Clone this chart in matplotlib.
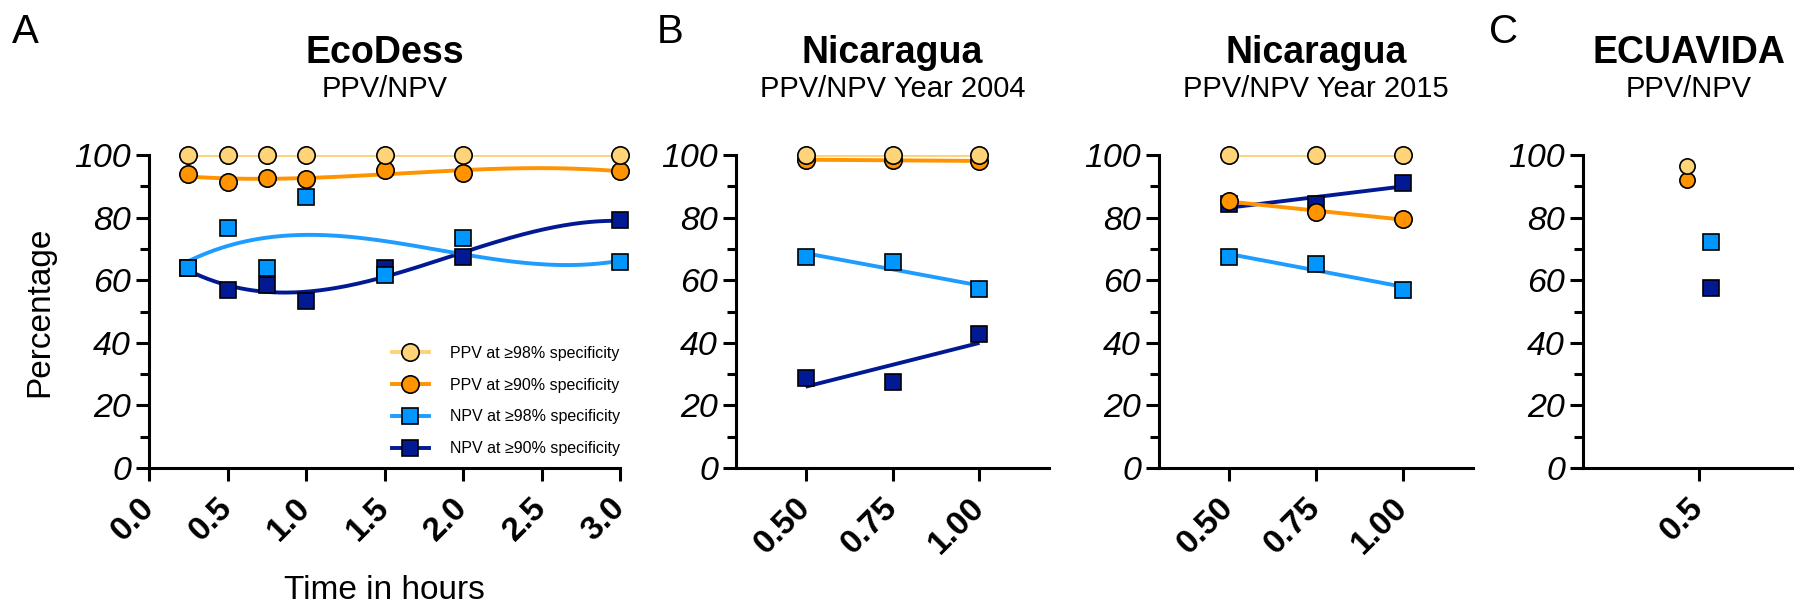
import numpy as np
import matplotlib
matplotlib.use("Agg")
import matplotlib.pyplot as plt
from matplotlib.ticker import MultipleLocator

plt.rcParams["font.family"] = ["Liberation Sans", "DejaVu Sans"]

# ---- data ----
eco_hours = [0.25, 0.5, 0.75, 1.0, 1.5, 2.0, 3.0]
eco_ppv98 = [100, 100, 100, 100, 100, 100, 100]
eco_ppv90 = [93.8, 91.4, 92.7, 92.2, 95.2, 94.3, 94.9]
eco_npv98 = [63.8, 76.8, 63.8, 86.7, 61.8, 73.5, 65.7]
eco_npv90 = [63.8, 56.8, 58.5, 53.5, 63.8, 67.5, 79.1]

nic_hours = [0.5, 0.75, 1.0]
nic04_ppv98 = [100, 100, 100]
nic04_ppv90 = [98.5, 98.3, 98.1]
nic04_npv98 = [67.5, 65.7, 57.2]
nic04_npv90 = [28.7, 27.5, 42.7]
nic15_ppv98 = [100, 100, 100]
nic15_ppv90 = [85.4, 81.7, 79.6]
nic15_npv98 = [67.3, 65.3, 56.8]
nic15_npv90 = [84.3, 84.3, 91.1]

ecu_hours = 0.5
ecu_ppv98 = 96.4
ecu_ppv90 = 92.1
ecu_npv98 = 72.2
ecu_npv90 = 57.6

LABELS = ["PPV at \u226598% specificity", "PPV at \u226590% specificity",
          "NPV at \u226598% specificity", "NPV at \u226590% specificity"]
# marker, face colour, line colour, zorder
STYLE = [("o", "#FFD479", "#FFD27A", 5),
         ("o", "#FF9300", "#FF9300", 4),
         ("s", "#0096FF", "#1E9CFF", 3),
         ("s", "#011993", "#011993", 2)]
MS = {"o": 12.5, "s": 11.5}

W, H = 1794, 610
fig = plt.figure(figsize=(W / 100, H / 100), dpi=100)


def px_axes(left, right, top=155, bottom=468):
    return fig.add_axes([left / W, 1 - bottom / H, (right - left) / W, (bottom - top) / H])


def style_axes(ax, xticks, xfmt):
    ax.set_ylim(0, 100)
    ax.yaxis.set_major_locator(MultipleLocator(20))
    ax.yaxis.set_minor_locator(MultipleLocator(10))
    for s in ("top", "right"):
        ax.spines[s].set_visible(False)
    for s in ("left", "bottom"):
        ax.spines[s].set_linewidth(2.2)
    ax.tick_params(which="major", length=9.5, width=2.2, pad=3.5)
    ax.tick_params(axis="y", which="minor", length=6.5, width=2.2)
    ax.set_xticks(xticks)
    ax.set_xticklabels([xfmt % t for t in xticks], rotation=45, ha="right",
                       rotation_mode="anchor", va="center", fontsize=24, fontweight="bold")
    ax.tick_params(axis="x", pad=16)
    for t in ax.get_yticklabels():
        t.set_fontstyle("italic")
        t.set_fontsize(24.5)


def titles(ax, big, small):
    pos = ax.get_position()
    cx = pos.x0 + pos.width / 2
    fig.text(cx, 1 - 63 / H, big, ha="center", va="baseline", fontsize=27, fontweight="bold")
    fig.text(cx, 1 - 97 / H, small, ha="center", va="baseline", fontsize=21)


def draw(ax, x, series, deg, x0, x1):
    xs = np.linspace(x0, x1, 200)
    for lab, y, (m, fc, lc, z) in zip(LABELS, series, STYLE):
        coef = np.polyfit(x, y, deg)
        ax.plot(xs, np.polyval(coef, xs), color=lc, lw=2.8, zorder=z - 0.5,
                solid_capstyle="butt")
        ax.plot(x, y, m, ms=MS[m], mfc=fc, mec="black", mew=1.2,
                zorder=z + 10, clip_on=False)
        ax.plot([], [], "-" + m, color=lc, lw=2.8, ms=MS[m],
                mfc=fc, mec="black", mew=1.2, label=lab)


# ---- A: EcoDess ----
axA = px_axes(149, 620)
draw(axA, eco_hours, [eco_ppv98, eco_ppv90, eco_npv98, eco_npv90], 3, 0.25, 3.0)
axA.set_xlim(0, 3)
style_axes(axA, [0, 0.5, 1.0, 1.5, 2.0, 2.5, 3.0], "%.1f")
axA.set_ylabel("Percentage", fontsize=24, labelpad=14)
axA.set_xlabel("Time in hours", fontsize=24, labelpad=20)
titles(axA, "EcoDess", "PPV/NPV")
leg = axA.legend(loc="upper left", bbox_to_anchor=(0.516, 0.39), frameon=False,
                 fontsize=11.5, borderpad=0, borderaxespad=0, handlelength=2.3,
                 handletextpad=1.3, labelspacing=1.05)

# ---- B: Nicaragua 2004 / 2015 ----
axB = px_axes(736, 1049)
draw(axB, nic_hours, [nic04_ppv98, nic04_ppv90, nic04_npv98, nic04_npv90], 1, 0.5, 1.0)
axB.set_xlim(0.3, 1.2)
style_axes(axB, [0.5, 0.75, 1.0], "%.2f")
titles(axB, "Nicaragua", "PPV/NPV Year 2004")

axB2 = px_axes(1159, 1473)
draw(axB2, nic_hours, [nic15_ppv98, nic15_ppv90, nic15_npv98, nic15_npv90], 1, 0.5, 1.0)
axB2.set_xlim(0.3, 1.2)
style_axes(axB2, [0.5, 0.75, 1.0], "%.2f")
titles(axB2, "Nicaragua", "PPV/NPV Year 2015")

# ---- C: ECUAVIDA ----
axC = px_axes(1583, 1794)
for y, (m, fc, lc, z), dx in zip([ecu_ppv98, ecu_ppv90, ecu_npv98, ecu_npv90], STYLE,
                                 [-0.05, -0.05, 0.05, 0.05]):
    axC.plot(ecu_hours + dx, y, m, ms=11, mfc=fc, mec="black", mew=1.2, zorder=z)
axC.set_xlim(0, 0.91)
style_axes(axC, [0.5], "%.1f")
titles(axC, "ECUAVIDA", "PPV/NPV")

for letter, x in (("A", 12), ("B", 657), ("C", 1489)):
    fig.text(x / W, 1 - 13 / H, letter, ha="left", va="top", fontsize=29)

fig.savefig("out.png", dpi=100)
